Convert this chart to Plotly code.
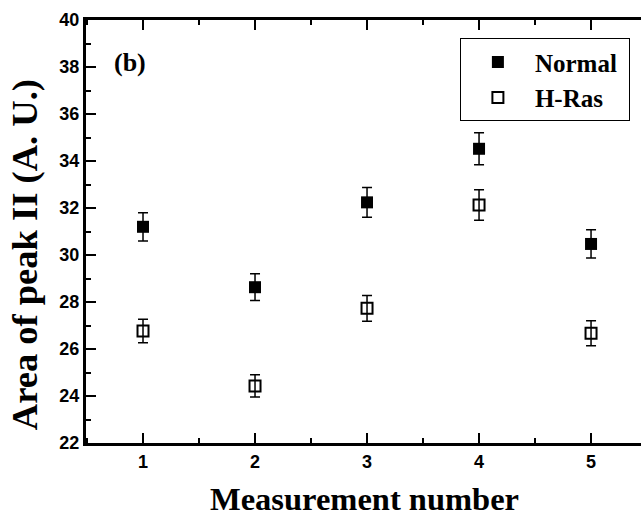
import plotly.graph_objects as go

measurement = [1, 2, 3, 4, 5]
normal = [31.2, 28.63, 32.24, 34.52, 30.47]
normal_err = [0.6, 0.57, 0.63, 0.68, 0.6]
hras = [26.77, 24.43, 27.73, 32.13, 26.67]
hras_err = [0.5, 0.47, 0.55, 0.65, 0.53]
series_names = ["Normal\u00a0", "H-Ras\u00a0"]

serif = "Liberation Serif, Times New Roman, serif"
sans = "Liberation Sans, Arial, sans-serif"

fig = go.Figure()
fig.add_trace(go.Scatter(
    x=measurement, y=normal, mode="markers", name=series_names[0],
    marker=dict(symbol="square", size=12, color="black"),
    error_y=dict(type="data", array=normal_err, color="black", thickness=1.5, width=5),
))
fig.add_trace(go.Scatter(
    x=measurement, y=hras, mode="markers", name=series_names[1],
    marker=dict(symbol="square-open", size=11, color="black", line=dict(width=2, color="black")),
    error_y=dict(type="data", array=hras_err, color="black", thickness=1.5, width=5),
))

fig.update_layout(
    width=641, height=516,
    margin=dict(l=86, r=0, t=20, b=73),
    paper_bgcolor="white", plot_bgcolor="white",
    showlegend=True,
    legend=dict(
        x=0.98, xanchor="right", y=0.957, yanchor="top",
        bordercolor="black", borderwidth=1, bgcolor="white",
        itemwidth=64,
        font=dict(family=serif, size=25, color="black", weight="bold"),
    ),
    xaxis=dict(
        range=[0.491, 5.446], tick0=1, dtick=1,
        showline=True, linecolor="black", linewidth=3, mirror="ticks",
        ticks="inside", ticklen=10, tickwidth=2, tickcolor="black",
        minor=dict(dtick=0.5, tick0=0.5, ticks="inside", ticklen=5, tickwidth=2, tickcolor="black"),
        showgrid=False, zeroline=False,
        tickfont=dict(family=sans, size=18, color="black", weight="bold"),
    ),
    yaxis=dict(
        range=[22, 40], tick0=22, dtick=2,
        showline=True, linecolor="black", linewidth=3,
        ticks="inside", ticklen=10, tickwidth=2, tickcolor="black",
        minor=dict(dtick=1, ticks="inside", ticklen=5, tickwidth=2, tickcolor="black"),
        showgrid=False, zeroline=False,
        tickfont=dict(family=sans, size=18, color="black", weight="bold"),
    ),
    yaxis2=dict(
        range=[22, 40], tick0=22, dtick=2, overlaying="y", side="right",
        showline=False, ticks="inside", ticklen=5, tickwidth=2, tickcolor="black",
        showticklabels=False, showgrid=False, zeroline=False,
    ),
    annotations=[
        dict(text="Area of peak II (A. U.)", xref="paper", yref="paper",
             x=-0.1117, y=0.444, textangle=-90, showarrow=False,
             xanchor="center", yanchor="middle",
             font=dict(family=serif, size=36.5, color="black", weight="bold")),
        dict(text="Measurement number", xref="paper", yref="paper",
             x=0.501, y=-0.133, showarrow=False, xanchor="center", yanchor="middle",
             font=dict(family=serif, size=32.5, color="black", weight="bold")),
        dict(text="(b)", xref="paper", yref="paper",
             x=0.079, y=0.9007, showarrow=False, xanchor="center", yanchor="middle",
             font=dict(family=serif, size=26, color="black", weight="bold")),
    ],
)

fig.write_html("out.html")
